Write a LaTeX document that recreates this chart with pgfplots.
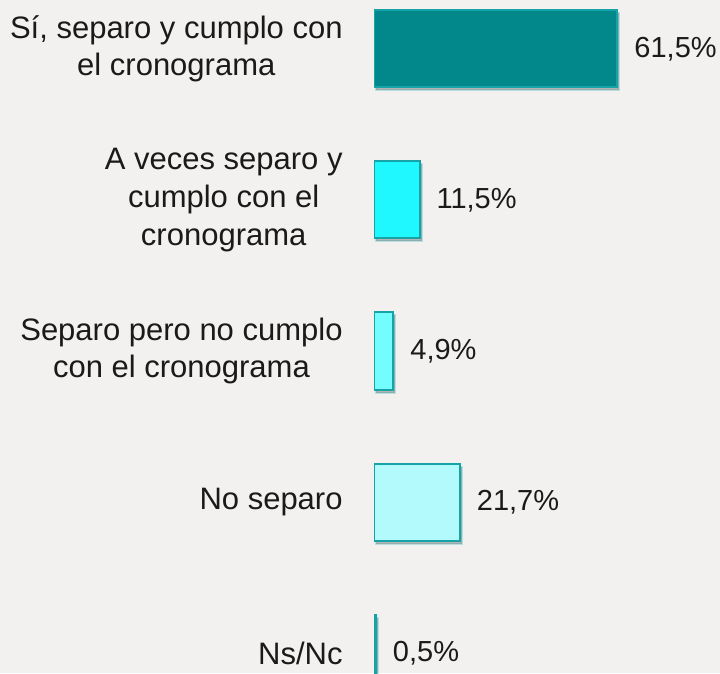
\documentclass[border=0pt]{standalone}
\usepackage{pgfplots}
\pgfplotsset{compat=1.18}
\usepackage{fontspec}
\setmainfont{Liberation Sans}
\usetikzlibrary{shadows,backgrounds}
\definecolor{bg}{HTML}{F2F1EF}
\definecolor{txt}{HTML}{1A1A1A}
\definecolor{edge}{HTML}{16A3A8}
\definecolor{c1}{HTML}{02878A}
\definecolor{c2}{HTML}{20F8FF}
\definecolor{c3}{HTML}{73FDFF}
\definecolor{c4}{HTML}{B2FAFC}
\begin{document}
\begin{tikzpicture}
	\begin{axis}[
			name=ax,
			scale only axis,
			width=173pt, height=336.5pt,
			xbar, bar width=38.5pt, bar shift=0pt,
			xmin=0, xmax=87.4,
			ymin=-0.3245, ymax=4.1325,
			y dir=reverse,
			hide x axis,
			y axis line style={draw=none},
			major tick length=0pt,
			ytick={0,1,2,3,4},
			yticklabels={{Sí, separo y cumplo con\\el cronograma},
				{A veces separo y\\cumplo con el\\cronograma},
				{Separo pero no cumplo\\con el cronograma},
				{No separo},{Ns/Nc}},
			yticklabel style={align=center, inner sep=0pt, xshift=-15.5pt,
				font=\fontsize{15.5}{18.8}\selectfont, text=txt},
			nodes near coords={\pgfmathprintnumber[fixed,fixed zerofill,precision=1,use comma,assume math mode=true]{\pgfplotspointmeta}\%},
			nodes near coords style={anchor=west, inner sep=0pt, xshift=8pt,
				font=\fontsize{14.5}{18}\selectfont, text=txt},
			clip mode=individual,
			every axis plot/.append style={draw=edge, line width=1pt,
				drop shadow={shadow xshift=1pt, shadow yshift=-1.5pt, opacity=0.25, fill=black}},
		]
		\addplot[fill=c1] coordinates {(61.5,0)};
		\addplot[fill=c2] coordinates {(11.5,1)};
		\addplot[fill=c3] coordinates {(4.9,2)};
		\addplot[fill=c4] coordinates {(21.7,3)};
		\addplot[fill=edge] coordinates {(0.5,4)};
	\end{axis}
	\begin{scope}[on background layer]
		\fill[bg] ([xshift=-187pt]ax.south west) rectangle (ax.north east);
	\end{scope}
	\pgfresetboundingbox
	\path ([xshift=-187pt]ax.south west) rectangle (ax.north east);
\end{tikzpicture}
\end{document}
